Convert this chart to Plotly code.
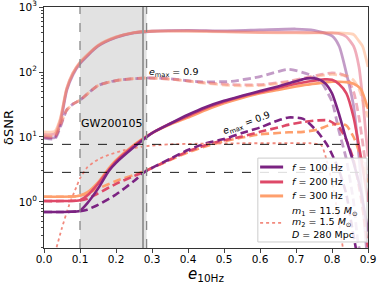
import numpy as np
import plotly.graph_objects as go

# eccentricity grids and dSNR values
e_lo = [0.0, 0.05, 0.09, 0.1, 0.12, 0.15, 0.18, 0.2, 0.25, 0.28, 0.3, 0.35, 0.4, 0.45,
        0.5, 0.55, 0.6, 0.65, 0.7, 0.73, 0.76, 0.78, 0.8, 0.82, 0.84, 0.86, 0.88, 0.9]
snr_100 = [0.70, 0.70, 0.71, 0.73, 0.95, 1.6, 3.0, 4.0, 7.0, 9.5, 11.5, 16, 22, 29,
           36, 43, 51, 60, 72, 80, 78, 68, 47, 22, 9, 4, 1.5, 0.35]
snr_200 = [1.03, 1.03, 1.04, 1.06, 1.25, 1.9, 3.1, 4.2, 7.3, 9.7, 11.5, 16, 21, 28,
           35, 42, 49, 57, 66, 71, 75, 77, 76, 65, 47, 20, 5, 1.0]
snr_300 = [1.2, 1.2, 1.22, 1.25, 1.4, 2.0, 3.3, 4.4, 7.6, 9.9, 11.5, 15.5, 20, 26,
           33, 40, 47, 53, 60, 64, 67, 69, 71, 71, 70, 66, 55, 27]

e_lo_d = [0.0, 0.05, 0.09, 0.1, 0.12, 0.15, 0.2, 0.25, 0.28, 0.35, 0.4, 0.45, 0.5,
          0.55, 0.6, 0.65, 0.68, 0.72, 0.76, 0.79, 0.82, 0.84, 0.86, 0.88, 0.9]
snr_100_d = [0.70, 0.70, 0.71, 0.72, 0.76, 0.9, 1.3, 2.1, 2.9, 4.6, 6.3, 8.0, 9.3,
             11.5, 14, 18, 20, 19, 12, 7, 3, 1.3, 0.3, 0.1, 0.1]
snr_200_d = [1.03, 1.03, 1.04, 1.05, 1.12, 1.35, 1.9, 2.5, 2.95, 4.5, 6.0, 7.5, 8.9,
             10.2, 12, 14, 15.5, 17, 18, 18, 14, 9, 4.4, 1.2, 0.2]
snr_300_d = [1.2, 1.2, 1.22, 1.25, 1.35, 1.6, 2.1, 2.6, 3.0, 4.4, 5.8, 7.2, 8.6,
             9.8, 11, 11.5, 11.8, 12, 13, 15, 16, 15, 10, 5, 2]

e_hi = [0.0, 0.03, 0.045, 0.063, 0.08, 0.1, 0.15, 0.2, 0.25, 0.3, 0.4, 0.5, 0.6,
        0.7, 0.75, 0.8, 0.82, 0.84, 0.86, 0.875, 0.885, 0.9]
snr_100_hi = [10, 9.8, 16, 52, 90, 135, 250, 340, 400, 425, 440, 430, 445, 460,
              440, 360, 250, 96, 30, 5, 1, 0.1]
snr_200_hi = [11, 11.2, 18, 55, 95, 140, 255, 345, 405, 425, 430, 420, 410, 410,
              405, 400, 390, 350, 250, 120, 40, 5]
snr_300_hi = [12, 12.2, 19, 56, 96, 142, 258, 348, 405, 425, 425, 415, 405, 400,
              400, 400, 400, 395, 380, 300, 250, 120]

e_hi_d = [0.0, 0.03, 0.045, 0.063, 0.08, 0.1, 0.15, 0.2, 0.28, 0.35, 0.43, 0.52,
          0.6, 0.68, 0.74, 0.77, 0.8, 0.82, 0.84, 0.86, 0.875, 0.9]
snr_100_hi_d = [9.6, 9.4, 14, 26, 32, 37, 62, 74, 81, 79, 71, 72, 85, 110, 90, 70,
                35, 12, 4.5, 1, 0.2, 0.1]
snr_200_hi_d = [10, 10, 15, 26, 32, 37, 62, 74, 81, 78, 70, 64, 64, 72, 85, 92,
                97, 95, 85, 50, 20, 2]
snr_300_hi_d = [10.5, 10.5, 15.5, 26, 32, 37, 62, 74, 81, 78, 69, 62, 62, 70, 82,
                88, 92, 90, 88, 75, 55, 20]

e_dot = [0.035, 0.05, 0.07, 0.09, 0.1, 0.12, 0.15, 0.18, 0.22, 0.28, 0.35, 0.45,
         0.55, 0.65, 0.74, 0.77, 0.785, 0.8, 0.815, 0.83]
snr_dot = [0.2, 0.4, 0.9, 1.7, 2.3, 3.4, 4.5, 5.3, 6.2, 7.2, 7.7, 7.9, 8.0, 8.0,
           8.0, 7.5, 4.4, 2.0, 0.7, 0.2]

snr_thresholds = [7.7, 2.85]
gw_band = [0.1, 0.285]
gw_point = 0.275

legend_labels = ['<i>f</i> = 100 Hz', '<i>f</i> = 200 Hz', '<i>f</i> = 300 Hz']
source_labels = ['<i>m</i><sub>1</sub> = 11.5 <i>M</i><sub>⊙</sub>',
                 '<i>m</i><sub>2</sub> = 1.5 <i>M</i><sub>⊙</sub>',
                 '<i>D</i> = 280 Mpc']

c100 = '#7b2382'
c200 = '#de4968'
c300 = '#fe9f6d'
cdot = '#f28a7e'


def faded(hexcol, a):
    r, g, b = int(hexcol[1:3], 16), int(hexcol[3:5], 16), int(hexcol[5:7], 16)
    return f'rgba({r},{g},{b},{a})'


fig = go.Figure()

# Faded upper curves
for ee, vv, col in [(e_hi, snr_100_hi, c100), (e_hi, snr_200_hi, c200), (e_hi, snr_300_hi, c300)]:
    fig.add_trace(go.Scatter(x=ee, y=vv, mode='lines', showlegend=False,
                             line=dict(color=faded(col, 0.45), width=2.8, shape='spline', smoothing=0.6)))
for ee, vv, col in [(e_hi_d, snr_100_hi_d, c100), (e_hi_d, snr_200_hi_d, c200), (e_hi_d, snr_300_hi_d, c300)]:
    fig.add_trace(go.Scatter(x=ee, y=vv, mode='lines', showlegend=False,
                             line=dict(color=faded(col, 0.45), width=2.8, dash='8px,4px', shape='spline', smoothing=0.6)))

# Lower dashed curves
for ee, vv, col in [(e_lo_d, snr_300_d, c300), (e_lo_d, snr_200_d, c200), (e_lo_d, snr_100_d, c100)]:
    fig.add_trace(go.Scatter(x=ee, y=vv, mode='lines', showlegend=False,
                             line=dict(color=col, width=2.6, dash='8px,4px', shape='spline', smoothing=0.6)))

# Dotted
fig.add_trace(go.Scatter(x=e_dot, y=snr_dot, mode='lines', showlegend=False,
                         line=dict(color=cdot, width=1.8, dash='dot', shape='spline', smoothing=0.6)))

# Lower solid curves
for ee, vv, col in [(e_lo, snr_300, c300), (e_lo, snr_200, c200), (e_lo, snr_100, c100)]:
    fig.add_trace(go.Scatter(x=ee, y=vv, mode='lines', showlegend=False,
                             line=dict(color=col, width=2.6, shape='spline', smoothing=0.6)))

# GW200105 band and lines
fig.add_vrect(x0=gw_band[0], x1=gw_band[1], fillcolor='#d8d8d8', opacity=0.75, line_width=0, layer='below')
for xv in gw_band:
    fig.add_vline(x=xv, line=dict(color='#888888', width=1.3, dash='dash'))
fig.add_vline(x=gw_point, line=dict(color='#999999', width=2))
for yv in snr_thresholds:
    fig.add_hline(y=yv, line=dict(color='black', width=0.9, dash='dash'))

fig.add_annotation(x=0.187, y=np.log10(16.4), text='GW200105', showarrow=False,
                   font=dict(size=11, color='black'))
fig.add_annotation(x=0.36, y=np.log10(100), text='<i>e</i><sub>max</sub> = 0.9', showarrow=False,
                   font=dict(size=9.5, color='black'))
fig.add_annotation(x=0.562, y=np.log10(16), text='<i>e</i><sub>max</sub> = 0.9', showarrow=False,
                   textangle=-20, font=dict(size=9.5, color='black'))
# x-axis title
fig.add_annotation(x=0.5, y=-0.11, xref='paper', yref='paper', yanchor='middle',
                   text='<i>e</i><sub>10Hz</sub>', showarrow=False, font=dict(size=15))

# hand-drawn legend box (matplotlib style)
fig.add_shape(type='rect', xref='paper', yref='paper', x0=0.660, x1=0.997, y0=0.025, y1=0.373,
              fillcolor='rgba(255,255,255,0.85)', line=dict(color='#cccccc', width=1))
row_y = [0.336, 0.274, 0.216]
for yy, col, lab in zip(row_y, [c100, c200, c300], legend_labels):
    fig.add_shape(type='line', xref='paper', yref='paper', x0=0.667, x1=0.738, y0=yy, y1=yy,
                  line=dict(color=col, width=3))
    fig.add_annotation(x=0.759, y=yy, xref='paper', yref='paper', xanchor='left', yanchor='middle',
                       text=lab, showarrow=False, font=dict(size=9.5))
fig.add_shape(type='line', xref='paper', yref='paper', x0=0.667, x1=0.738, y0=0.104, y1=0.104,
              line=dict(color=cdot, width=1.8, dash='dot'))
for yy, lab in zip([0.153, 0.104, 0.058], source_labels):
    fig.add_annotation(x=0.759, y=yy, xref='paper', yref='paper', xanchor='left', yanchor='middle',
                       text=lab, showarrow=False, font=dict(size=9.5))

minor_vals = [m * 10 ** k for k in range(-1, 3) for m in range(2, 10)]
fig.update_layout(
    width=381, height=285,
    margin=dict(l=44, r=13, t=7, b=37),
    plot_bgcolor='white', paper_bgcolor='white',
    font=dict(family='DejaVu Sans', size=10.5, color='black'),
    showlegend=False,
    xaxis=dict(range=[0, 0.9], tickvals=[i / 10 for i in range(10)], tickformat='.1f',
               ticks='outside', ticklen=4, showline=True, linecolor='#333333', mirror=True,
               showgrid=False, zeroline=False, automargin=False, ticklabelstandoff=-3),
    yaxis=dict(type='log', range=[np.log10(0.195), 3.002],
               tickvals=[1, 10, 100, 1000],
               ticktext=['10<sup>0</sup>', '10<sup>1</sup>', '10<sup>2</sup>', '10<sup>3</sup>'],
               ticks='outside', ticklen=4, showline=True, linecolor='#333333', mirror=True,
               showgrid=False, zeroline=False, automargin=False, ticklabeloverflow='allow',
               minor=dict(tickvals=minor_vals, ticks='outside', ticklen=2, showgrid=False),
               title=dict(text='δSNR', font=dict(size=13), standoff=2)),
)

fig.write_html('out.html', config={'displayModeBar': False},
               post_script="document.body.style.margin='0px';")
